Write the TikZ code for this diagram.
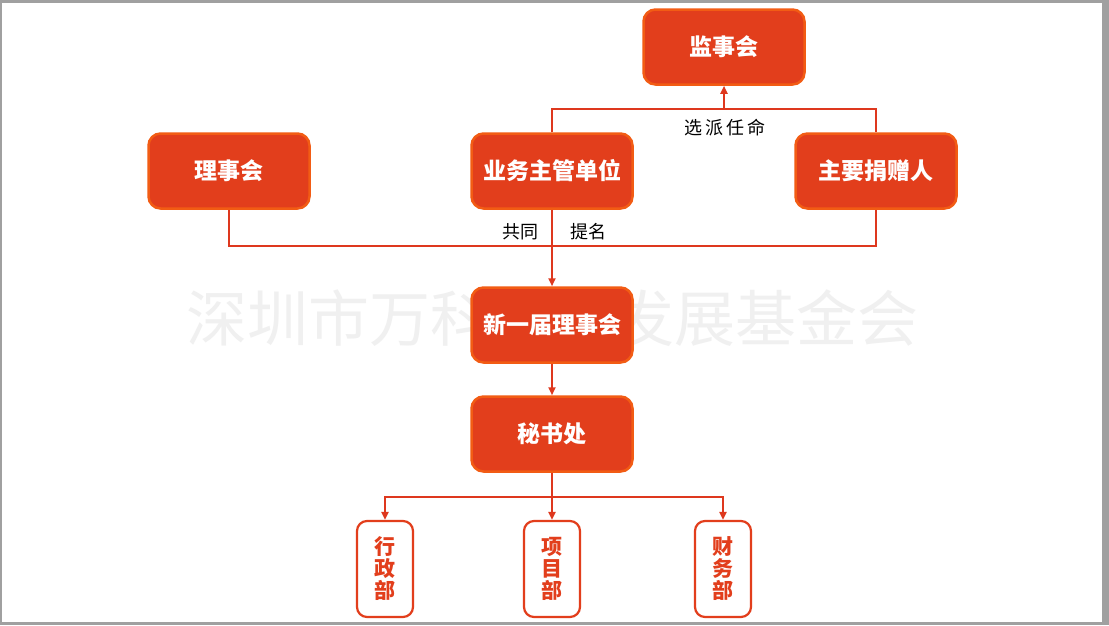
\documentclass[tikz,border=0pt]{standalone}
\usepackage{fontspec}
\usetikzlibrary{arrows.meta}
\newfontfamily\cjk{Noto Sans CJK SC}
\definecolor{boxfill}{RGB}{226,62,28}
\definecolor{boxline}{RGB}{242,92,20}
\definecolor{connred}{RGB}{222,56,30}
\definecolor{framegray}{RGB}{160,160,160}
\tikzset{
  redbox/.style={draw=boxline, fill=boxfill, line width=2.5pt, rounded corners=12pt,
    minimum width=161pt, minimum height=75pt, text=white, font=\cjk\bfseries\fontsize{23}{26}\selectfont, inner sep=0pt},
  deptbox/.style={draw=boxfill, fill=white, line width=2.2pt, rounded corners=10pt,
    minimum width=56pt, minimum height=96pt, text=boxfill, align=center,
    font=\cjk\bfseries\fontsize{21}{22}\selectfont, inner sep=0pt},
  conn/.style={draw=connred, line width=2pt},
  arr/.style={conn, -{Triangle[length=8pt,width=7pt]}},
  lbl/.style={font=\cjk\fontsize{18}{20}\selectfont, text=black, inner sep=0pt},
}
\begin{document}
\begin{tikzpicture}[x=1pt,y=-1pt]
\fill[framegray] (0,0) rectangle (1109,625);
\fill[white] (2,3) rectangle (1102,622);
\useasboundingbox (0,0) rectangle (1109,625);
% watermark
\node[font=\cjk\fontsize{61}{61}\selectfont, text=black!6, inner sep=0pt] (wm) at (552,318) {深圳市万科公益发展基金会};
% top boxes
\node[redbox] (jsh) at (724,47) {监事会};
\node[redbox] (lsh) at (229,171) {理事会};
\node[redbox] (yw) at (552,171) {业务主管单位};
\node[redbox] (zy) at (876,171) {主要捐赠人};
\node[redbox] (xin) at (552,325) {新一届理事会};
\node[redbox] (msc) at (552,434) {秘书处};
\node[deptbox] (xz) at (385,569) {行\\政\\部};
\node[deptbox] (xm) at (552,569) {项\\目\\部};
\node[deptbox] (cw) at (723,569) {财\\务\\部};
% coordinates
\coordinate (tj) at (724,109);
\coordinate (bj) at (552,246);
\coordinate (bd) at (552,497);
% connectors
\draw[conn] (yw.north) |- (tj) -| (zy.north);
\draw[arr] (tj) -- (jsh.south);
\draw[conn] (lsh.south) |- (bj) -| (zy.south);
\draw[arr] (yw.south) -- (xin.north);
\draw[arr] (xin.south) -- (msc.north);
\draw[arr] (msc.south) -- (xm.north);
\draw[arr] (bd) -| (xz.north);
\draw[arr] (bd) -| (cw.north);
% labels
\node[lbl] (l1) at (725,128) {选\,派\,任\,命};
\node[lbl] (l2) at (520,232) {共同};
\node[lbl] (l3) at (588,232) {提名};
\end{tikzpicture}
\end{document}
